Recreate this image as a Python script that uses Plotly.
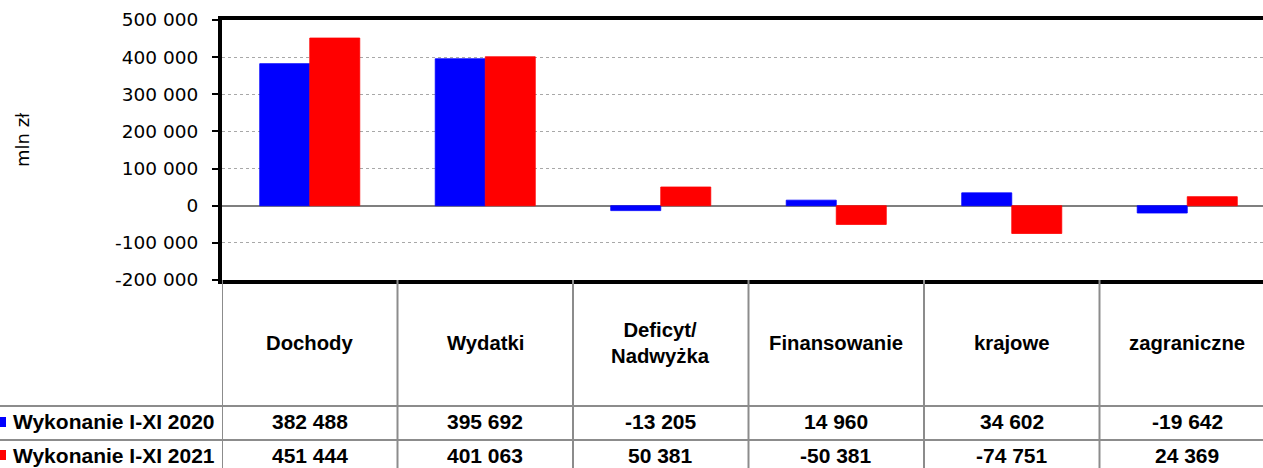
import plotly.graph_objects as go

categories = ["Dochody", "Wydatki", "Deficyt/<br>Nadwyżka", "Finansowanie", "krajowe", "zagraniczne"]
series_names = ["Wykonanie I-XI 2020", "Wykonanie I-XI 2021"]
values_2020 = [382488, 395692, -13205, 14960, 34602, -19642]
values_2021 = [451444, 401063, 50381, -50381, -74751, 24369]
colors = ["#0000FF", "#FF0000"]
y_ticks = [-200000, -100000, 0, 100000, 200000, 300000, 400000, 500000]


def fmt(v):
    return f"{v:,}".replace(",", " ")


W, H = 1263, 468
ML, MR, MT, MB = 222, 0, 20, 188
plot_w = W - ML - MR
plot_h = H - MT - MB
cat_px = 175.5
x_max = -0.5 + plot_w / cat_px


def py(pix_y):
    # pixel y -> paper y
    return (H - MB - pix_y) / plot_h


def px(pix_x):
    return (pix_x - ML) / plot_w


x_idx = list(range(len(categories)))

fig = go.Figure()
for name, vals, col in zip(series_names, [values_2020, values_2021], colors):
    fig.add_trace(go.Bar(
        x=x_idx, y=vals, name=name,
        marker=dict(color=col, line=dict(color=col, width=0.8)),
        hoverinfo="y+name",
    ))

shapes = []
annotations = []

# table vertical lines (category boundaries)
for i in range(len(categories)):
    shapes.append(dict(type="line", xref="x", yref="paper", x0=i - 0.5, x1=i - 0.5,
                       y0=0, y1=py(H + 5), line=dict(color="#8c8c8c", width=2), layer="above"))
# table horizontal lines
for yy in [406, 440]:
    shapes.append(dict(type="line", xref="paper", yref="paper", x0=px(0), x1=1.0,
                       y0=py(yy), y1=py(yy), line=dict(color="#8c8c8c", width=2)))

# category labels
for i, c in enumerate(categories):
    annotations.append(dict(x=i, y=py(343), xref="x", yref="paper", text=f"<b>{c}</b>",
                            showarrow=False, xanchor="center", yanchor="middle",
                            font=dict(family="Liberation Sans, Arial", size=20.3, color="black")))

row_y = [422, 455]
for r, (name, vals, col) in enumerate(zip(series_names, [values_2020, values_2021], colors)):
    yc = row_y[r]
    shapes.append(dict(type="rect", xref="paper", yref="paper", x0=px(-1), x1=px(6),
                       y0=py(yc + 5), y1=py(yc - 5), fillcolor=col, line=dict(width=0)))
    annotations.append(dict(x=px(11), y=py(yc), xref="paper", yref="paper", text=f"<b>{name}</b>",
                            showarrow=False, xanchor="left", yanchor="middle",
                            font=dict(family="Liberation Sans, Arial", size=21, color="black")))
    for i, v in enumerate(vals):
        annotations.append(dict(x=i, y=py(yc), xref="x", yref="paper", text=f"<b>{fmt(v)}</b>",
                                showarrow=False, xanchor="center", yanchor="middle",
                                font=dict(family="Liberation Sans, Arial", size=21, color="black")))

# y axis title
annotations.append(dict(x=px(22), y=py(140), xref="paper", yref="paper", text="mln zł",
                        showarrow=False, textangle=-90, xanchor="center", yanchor="middle",
                        font=dict(family="DejaVu Sans, Verdana", size=18, color="black")))

fig.update_layout(
    width=W, height=H,
    margin=dict(l=ML, r=MR, t=MT, b=MB, pad=0),
    paper_bgcolor="white", plot_bgcolor="white",
    barmode="group", bargap=0.43, bargroupgap=0,
    showlegend=False,
    shapes=shapes, annotations=annotations,
    xaxis=dict(range=[-0.5, x_max], showticklabels=False, ticks="", showgrid=False,
               zeroline=False, showline=True, mirror=True, linecolor="black", linewidth=4,
               fixedrange=True),
    yaxis=dict(range=[-200000, 500000], tickvals=y_ticks, ticktext=[fmt(v) for v in y_ticks],
               ticks="outside", ticklen=6, tickwidth=1.5, tickcolor="black",
               ticklabelstandoff=10,
               tickfont=dict(family="DejaVu Sans, Verdana", size=18.5, color="black"),
               showgrid=True, gridcolor="#a8a8a8", griddash="dot", gridwidth=1,
               zeroline=True, zerolinecolor="#7f7f7f", zerolinewidth=1.5,
               showline=True, linecolor="black", linewidth=4, mirror=False,
               fixedrange=True),
)

fig.write_html("out.html", config={"displayModeBar": False},
               post_script="document.body.style.margin='0';document.body.style.overflow='hidden';")
